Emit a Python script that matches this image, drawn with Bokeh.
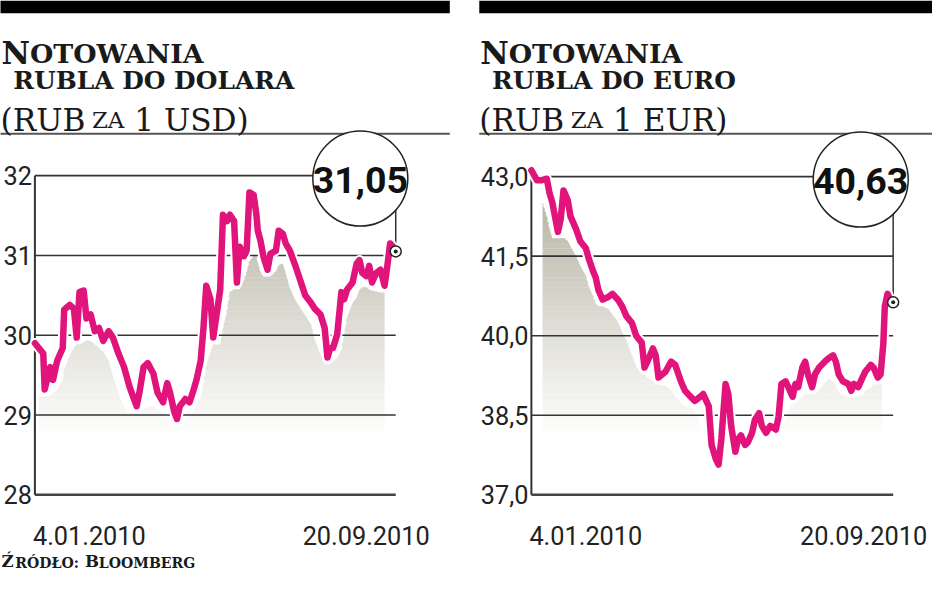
import numpy as np
import pandas as pd
from bokeh.plotting import figure
from bokeh.models import Range1d
from bokeh.core.properties import value
from bokeh.embed import file_html
from bokeh.resources import INLINE

# ---------------- data ----------------
START = "2010-01-04"
END = "2010-09-20"

# days since 4.01.2010 and RUB per 1 USD
usd_days = [0, 6, 7, 11, 13, 16, 20, 21, 25, 28,
            30, 32, 35, 37, 40, 43, 46, 49, 53, 56,
            60, 64, 68, 73, 75, 78, 81, 85, 88, 92,
            95, 97, 100, 102, 104, 108, 111, 114, 116, 119,
            121, 123, 126, 128, 133, 135, 138, 140, 143, 145,
            147, 150, 152, 154, 157, 159, 160, 162, 164, 167,
            169, 173, 175, 178, 180, 183, 187, 191, 194, 198,
            201, 205, 208, 210, 212, 214, 217, 220, 222, 224,
            228, 231, 233, 235, 238, 240, 242, 245, 248, 251,
            253, 255, 257, 259]
usd_rate = [29.90, 29.77, 29.32, 29.60, 29.44, 29.68, 29.84, 30.32, 30.38, 30.33,
            29.97, 30.54, 30.56, 30.21, 30.26, 30.05, 30.09, 29.93, 30.05, 29.97,
            29.77, 29.60, 29.35, 29.11, 29.28, 29.60, 29.65, 29.52, 29.28, 29.16,
            29.40, 29.28, 29.04, 28.95, 29.11, 29.20, 29.16, 29.32, 29.44, 29.68,
            30.09, 30.62, 30.45, 29.97, 30.57, 31.51, 31.43, 31.51, 31.43, 30.66,
            31.11, 30.99, 31.06, 31.79, 31.76, 31.51, 31.31, 31.18, 30.99, 30.82,
            31.02, 31.06, 31.31, 31.27, 31.15, 31.06, 30.87, 30.66, 30.50, 30.41,
            30.33, 30.26, 30.09, 29.72, 29.84, 29.84, 30.01, 30.54, 30.45, 30.57,
            30.66, 30.90, 30.94, 30.78, 30.74, 30.87, 30.66, 30.78, 30.82, 30.62,
            30.87, 31.15, 31.11, 31.05]

# days since 4.01.2010 and RUB per 1 EUR
eur_days = [0, 4, 7, 11, 13, 15, 19, 21, 23, 26,
            28, 32, 35, 39, 41, 44, 46, 48, 51, 55,
            58, 62, 65, 68, 72, 75, 79, 81, 83, 87,
            89, 91, 96, 100, 103, 107, 110, 114, 117, 121,
            123, 127, 129, 132, 134, 136, 139, 141, 143, 146,
            148, 150, 153, 155, 158, 160, 163, 165, 168, 171,
            175, 177, 179, 182, 184, 187, 189, 191, 194, 196,
            198, 201, 203, 206, 210, 213, 216, 218, 220, 223,
            227, 229, 231, 234, 237, 239, 243, 245, 248, 250,
            252, 253, 255, 257, 259]
eur_rate = [43.12, 42.93, 42.93, 42.96, 42.69, 42.51, 41.96, 42.20, 42.74, 42.56,
            42.25, 42.01, 41.78, 41.65, 41.46, 41.23, 41.10, 40.86, 40.68, 40.73,
            40.79, 40.68, 40.55, 40.37, 40.24, 40.00, 39.87, 39.40, 39.51, 39.76,
            39.63, 39.21, 39.32, 39.51, 39.45, 39.14, 38.96, 38.85, 38.77, 38.85,
            38.90, 38.67, 37.94, 37.68, 37.57, 38.05, 39.09, 38.90, 38.30, 37.81,
            38.05, 38.12, 37.94, 37.99, 38.17, 38.41, 38.54, 38.30, 38.17, 38.30,
            38.23, 38.48, 39.09, 39.14, 39.03, 38.85, 39.09, 39.03, 39.40, 39.51,
            39.27, 39.03, 39.27, 39.40, 39.51, 39.58, 39.63, 39.51, 39.27, 39.14,
            39.09, 38.96, 39.09, 39.03, 39.21, 39.32, 39.45, 39.40, 39.21, 39.27,
            39.87, 40.55, 40.79, 40.68, 40.63]

usd_ticks = [28, 29, 30, 31, 32]
usd_tick_labels = ["28", "29", "30", "31", "32"]
eur_ticks = [37.0, 38.5, 40.0, 41.5, 43.0]
eur_tick_labels = ["37,0", "38,5", "40,0", "41,5", "43,0"]
date_labels = ["4.01.2010", "20.09.2010"]

usd_title = ["N", "OTOWANIA", "RUBLA DO DOLARA", "(RUB", "ZA", "1 USD)"]
eur_title = ["N", "OTOWANIA", "RUBLA DO EURO", "(RUB", "ZA", "1 EUR)"]
source_text = ["Ź", "RÓDŁO:", "B", "LOOMBERG"]

# ---------------- styling ----------------
MAGENTA = "#e0147a"
GRID = "#333333"
INK = "#1a1a1a"
SERIF = value("DejaVu Serif")
NUM_FONT = value("Roboto")
BIG_FONT = value("Roboto")

W_REF, H_REF = 948, 593          # layout coordinates (reference pixels)
W, H = 932, 577                  # canvas size
FS = 0.975                       # font scale

p = figure(width=W, height=H, x_range=Range1d(0, W_REF), y_range=Range1d(H_REF, 0),
           output_backend="svg", toolbar_location=None,
           x_axis_type=None, y_axis_type=None, min_border=0,
           outline_line_color=None, background_fill_color="white",
           border_fill_color="white")
p.grid.visible = False

def fs(px):
    return f"{px * FS:.1f}px"

# top black bars and rules under titles
p.quad(left=[-20, 487], right=[457, 960], top=[0, 0], bottom=[13, 13],
       fill_color="black", line_color=None)
p.segment(x0=[-20, 487], y0=[137, 137], x1=[457, 960], y1=[137, 137],
          line_color="#555555", line_width=2)

t0 = pd.Timestamp(START)
t1 = pd.Timestamp(END)
t0_ms = t0.value / 1e6
t1_ms = t1.value / 1e6

panels = [
    dict(name="usd", days=usd_days, rate=usd_rate, ticks=usd_ticks, labels=usd_tick_labels,
         title=usd_title, px0=35, px1=402, py_top=180, py_bot=508,
         area=(3, 251), dx=-487, circ=(366, 183)),
    dict(name="eur", days=eur_days, rate=eur_rate, ticks=eur_ticks, labels=eur_tick_labels,
         title=eur_title, px0=540, px1=908, py_top=181, py_bot=508,
         area=(8, 251), dx=0, circ=(875, 184)),
]

for pn in panels:
    xn, yn = pn["name"] + "_x", pn["name"] + "_y"
    ticks = pn["ticks"]
    v_bot, v_top = ticks[0], ticks[-1]
    mpp = (t1_ms - t0_ms) / (pn["px1"] - pn["px0"])
    vpp = (v_top - v_bot) / (pn["py_bot"] - pn["py_top"])
    p.extra_x_ranges[xn] = Range1d(t0_ms - pn["px0"] * mpp, t0_ms + (W_REF - pn["px0"]) * mpp)
    p.extra_y_ranges[yn] = Range1d(v_bot - (H_REF - pn["py_bot"]) * vpp, v_top + pn["py_top"] * vpp)

    def v_at(py):
        return v_top - (py - pn["py_top"]) * vpp

    days = np.array(pn["days"], dtype=float)
    rate = np.array(pn["rate"], dtype=float)
    dates = t0 + pd.to_timedelta(days, unit="D")

    # decorative shaded area under the line, fading downward
    lowenv = pd.Series(rate).rolling(5, center=True, min_periods=1).min()
    shadow = lowenv.rolling(3, center=True, min_periods=1).mean().values - 7 * vpp
    g = np.arange(pn["area"][0], pn["area"][1] + 1, dtype=float)
    sg = np.interp(g, days, shadow)
    gdates = t0 + pd.to_timedelta(g, unit="D")
    dark = np.array([180, 177, 160])
    top_px, bot_px, step = 190, 450, 5
    for py in range(top_px, bot_px, step):
        hi = v_at(py) + 0.4 * vpp
        lo = v_at(py + step)
        tt = (py + step / 2 - top_px) / (bot_px - top_px)
        c = dark * (1 - tt) + 255 * tt
        col = "#%02x%02x%02x" % tuple(int(round(x)) for x in c)
        y2 = np.clip(sg, lo, hi)
        p.varea(x=gdates, y1=lo, y2=y2, fill_color=col, x_range_name=xn, y_range_name=yn)

    # grid lines and axis
    n = len(ticks)
    widths = [2.4] + [1.6] * (n - 1)
    cols = ["#444444"] + [GRID] * (n - 1)
    p.segment(x0=[t0] * n, y0=ticks, x1=[t1] * n, y1=ticks, line_color=cols,
              line_width=widths, x_range_name=xn, y_range_name=yn)
    p.segment(x0=[t0], y0=[v_bot], x1=[t0], y1=[v_top], line_color=GRID, line_width=2,
              x_range_name=xn, y_range_name=yn)

    # connector from last value to the callout
    p.segment(x0=[dates[-1]], y0=[rate[-1]], x1=[dates[-1]], y1=[v_top], line_color=GRID,
              line_width=1.5, x_range_name=xn, y_range_name=yn)

    # the rate line
    p.line(x=dates, y=rate, line_color="white", line_width=10.5, line_join="round",
           line_cap="round", x_range_name=xn, y_range_name=yn)
    p.line(x=dates, y=rate, line_color=MAGENTA, line_width=6.5, line_join="round",
           line_cap="round", x_range_name=xn, y_range_name=yn)

    # last point marker
    p.scatter(x=[dates[-1]], y=[rate[-1]], size=11, fill_color="white", line_color="#222222",
              line_width=1.5, x_range_name=xn, y_range_name=yn)
    p.scatter(x=[dates[-1]], y=[rate[-1]], size=4, fill_color="#222222", line_color=None,
              x_range_name=xn, y_range_name=yn)

    # callout circle with the last value
    cx, cy = pn["circ"]
    p.scatter(x=[cx], y=[cy], size=95, fill_color="white", line_color="#222222", line_width=1.5)
    last_txt = f"{rate[-1]:.2f}".replace(".", ",")
    p.text(x=[cx], y=[cy + 1], text=[last_txt], text_align="center", text_baseline="middle",
           text_font=BIG_FONT, text_font_style="bold", text_font_size=fs(38.5), text_color="#111111")

    # tick labels
    p.text(x=[t0] * n, y=ticks, text=pn["labels"], text_align="right", text_baseline="middle",
           x_offset=-3, text_font=NUM_FONT, text_font_size=fs(26),
           text_color="#222222", x_range_name=xn, y_range_name=yn)
    # date labels
    p.text(x=[t0], y=[550], text=[date_labels[0]], text_align="left", text_baseline="alphabetic",
           x_offset=-2, text_font=NUM_FONT, text_font_size=fs(26), text_color="#222222",
           x_range_name=xn)
    p.text(x=[t1], y=[550], text=[date_labels[1]], text_align="right", text_baseline="alphabetic",
           x_offset=34, text_font=NUM_FONT, text_font_size=fs(26), text_color="#222222",
           x_range_name=xn)

    # titles (small-caps look: big initial + smaller capitals)
    dx = pn["dx"]
    tl = pn["title"]
    p.text(x=[488 + dx], y=[54], text=[tl[0]], text_font=SERIF, text_font_style="bold",
           text_font_size=fs(32), text_color=INK, text_baseline="alphabetic")
    p.text(x=[517 + dx], y=[54], text=[tl[1]], text_font=SERIF, text_font_style="bold",
           text_font_size=fs(27.5), text_color=INK, text_baseline="alphabetic")
    p.text(x=[500 + dx], y=[82], text=[tl[2]], text_font=SERIF, text_font_style="bold",
           text_font_size=fs(25.5), text_color=INK, text_baseline="alphabetic")
    p.text(x=[487 + dx], y=[123], text=[tl[3]], text_font=SERIF,
           text_font_size=fs(32), text_color=INK, text_baseline="alphabetic")
    p.text(x=[580 + dx], y=[123], text=[tl[4]], text_font=SERIF,
           text_font_size=fs(23.5), text_color=INK, text_baseline="alphabetic")
    p.text(x=[623 + dx], y=[123], text=[tl[5]], text_font=SERIF,
           text_font_size=fs(32), text_color=INK, text_baseline="alphabetic")

# source line (left panel)
p.text(x=[1], y=[586], text=[source_text[0]], text_font=SERIF, text_font_style="bold",
       text_font_size=fs(17), text_color=INK)
p.text(x=[15], y=[586], text=[source_text[1]], text_font=SERIF, text_font_style="bold",
       text_font_size=fs(14.5), text_color=INK)
p.text(x=[86], y=[586], text=[source_text[2]], text_font=SERIF, text_font_style="bold",
       text_font_size=fs(17), text_color=INK)
p.text(x=[100], y=[586], text=[source_text[3]], text_font=SERIF, text_font_style="bold",
       text_font_size=fs(14.5), text_color=INK)

open("out.html", "w").write(file_html(p, INLINE))
